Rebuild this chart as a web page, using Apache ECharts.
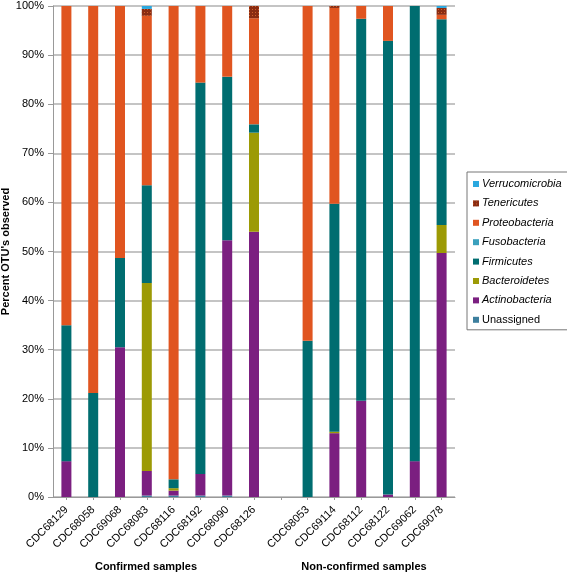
<!DOCTYPE html>
<html><head><meta charset="utf-8">
<script src="https://cdn.jsdelivr.net/npm/echarts@6/dist/echarts.min.js"></script>
<style>html,body{margin:0;padding:0;background:#fff}#c{width:567px;height:575px}</style>
</head><body><div id="c"></div>
<script>
var categories = ['CDC68129','CDC68058','CDC69068','CDC68083','CDC68116','CDC68192','CDC68090','CDC68126','',
                  'CDC68053','CDC69114','CDC68112','CDC68122','CDC69062','CDC69078'];
var unassigned      = [0, 0, 0, 0.3, 0.3, 0.3, 0.3, 0, null, 0, 0, 0, 0, 0, 0];
var actinobacteria  = [7.3, 0, 30.5, 5.0, 1.0, 4.4, 52.0, 54.0, null, 0, 13.0, 19.6, 0.5, 7.3, 49.7];
var bacteroidetes   = [0, 0, 0, 38.3, 0.5, 0, 0, 20.2, null, 0, 0.3, 0, 0, 0, 5.7];
var firmicutes      = [27.7, 21.2, 18.2, 19.9, 1.8, 79.7, 33.3, 1.7, null, 31.8, 46.4, 77.8, 92.4, 92.7, 41.9];
var fusobacteria    = [0, 0, 0, 0, 0, 0, 0, 0, null, 0, 0, 0, 0, 0, 0];
var proteobacteria  = [65.0, 78.8, 51.3, 34.5, 96.4, 15.6, 14.4, 21.6, null, 68.2, 39.9, 2.6, 7.1, 0, 0.9];
var tenericutes     = [0, 0, 0, 1.4, 0, 0, 0, 2.5, null, 0, 0.4, 0, 0, 0, 1.4];
var verrucomicrobia = [0, 0, 0, 0.6, 0, 0, 0, 0, null, 0, 0, 0, 0, 0, 0.4];
var yTicks = ['0%','10%','20%','30%','40%','50%','60%','70%','80%','90%','100%'];
var groupLabels = ['Confirmed samples', 'Non-confirmed samples'];

var seriesDefs = [
  ['Unassigned', unassigned, '#3d7f9e', false],
  ['Actinobacteria', actinobacteria, '#7b1f80', true],
  ['Bacteroidetes', bacteroidetes, '#9c9a05', true],
  ['Firmicutes', firmicutes, '#006d70', true],
  ['Fusobacteria', fusobacteria, '#3aa0bd', true],
  ['Proteobacteria', proteobacteria, '#e05520', true],
  ['Tenericutes', tenericutes, '#8a2c12', true],
  ['Verrucomicrobia', verrucomicrobia, '#2aa8df', true]
];

var chart = echarts.init(document.getElementById('c'), null, {renderer:'canvas'});
var series = seriesDefs.map(function(d){
  var s = {
    name: d[0], type: 'bar', stack: 'all', data: d[1], barWidth: 10,
    itemStyle: {color: d[2]},
    emphasis: {disabled: true}
  };
  if (d[0] === 'Tenericutes') {
    s.itemStyle.decal = {symbol: 'rect', symbolSize: 1, color: 'rgba(224,110,50,0.8)',
      dashArrayX: [1, 2], dashArrayY: [1, 2], rotation: 0};
  }
  return s;
});
var legendData = seriesDefs.slice().reverse().map(function(d){
  return {name: d[0], textStyle: {fontStyle: d[3] ? 'italic' : 'normal'}};
});

chart.setOption({
  animation: false,
  grid: {left: 53, right: 112, top: 6, bottom: 78, containLabel: false, outerBoundsMode: 'none'},
  legend: {
    orient: 'vertical', left: 467, top: 172, width: 98,
    data: legendData,
    itemWidth: 6, itemHeight: 6, itemGap: 7.4,
    icon: 'rect',
    borderColor: '#777', borderWidth: 1, padding: [6, 6, 4, 6],
    textStyle: {fontFamily: 'Liberation Sans, Arial', fontSize: 11, color: '#000', lineHeight: 12, padding: [0,0,0,-2]}
  },
  xAxis: {
    type: 'category', data: categories,
    axisLine: {lineStyle: {color: '#999', width: 1}},
    axisTick: {show: true, alignWithLabel: true, length: 3, lineStyle: {color: '#999'}},
    axisLabel: {rotate: 45, interval: 0, fontFamily: 'Liberation Sans, Arial', fontSize: 11, color: '#000', margin: 11}
  },
  yAxis: {
    type: 'value', min: 0, max: 100, interval: 10,
    name: "Percent OTU's observed", nameLocation: 'middle', nameGap: 42, nameMoveOverlap: false,
    nameTextStyle: {fontFamily: 'Liberation Sans, Arial', fontSize: 11, fontWeight: 'bold', color: '#000'},
    axisLine: {show: true, lineStyle: {color: '#999'}},
    axisTick: {show: true, length: 5, lineStyle: {color: '#999'}},
    splitLine: {lineStyle: {color: '#b0b0b0', width: 1.5}},
    axisLabel: {fontFamily: 'Liberation Sans, Arial', fontSize: 11, color: '#000', margin: 9,
      formatter: function(v){ return yTicks[Math.round(v/10)]; }}
  },
  graphic: [
    {type: 'text', x: 146, y: 561, style: {text: groupLabels[0], font: 'bold 11px Liberation Sans, Arial', fill: '#000', align: 'center', textAlign: 'center'}},
    {type: 'text', x: 364, y: 561, style: {text: groupLabels[1], font: 'bold 11px Liberation Sans, Arial', fill: '#000', align: 'center', textAlign: 'center'}}
  ],
  series: series
});
</script></body></html>
